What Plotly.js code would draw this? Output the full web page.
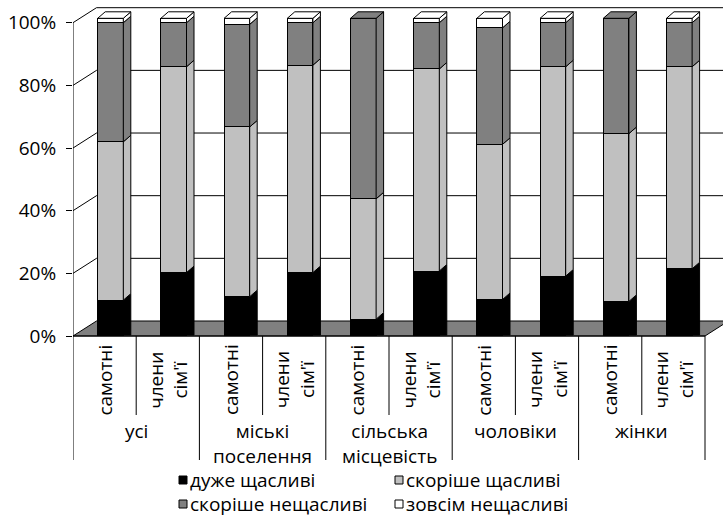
<!DOCTYPE html>
<html><head><meta charset="utf-8">
<script src="https://cdn.plot.ly/plotly-3.0.1.min.js"></script>
<style>html,body{margin:0;padding:0;background:#fff}#chart{width:723px;height:522px}</style>
</head><body><div id="chart"></div>
<script>
// ---- data ----
const groupLabels = ['усі', 'міські<br>поселення', 'сільська<br>місцевість', 'чоловіки', 'жінки'];
const subLabels = ['самотні', "члени<br>сім'ї"];
const seriesNames = ['дуже щасливі', 'скоріше щасливі', 'скоріше нещасливі', 'зовсім нещасливі'];
const veryHappy     = [11.0, 19.7, 12.1, 19.7, 5.0, 20.2, 11.2, 18.6, 10.6, 20.9];
const ratherHappy   = [50.0, 65.0, 53.6, 65.5, 38.0, 63.8, 49.0, 66.1, 53.0, 63.8];
const ratherUnhappy = [37.6, 13.9, 32.4, 13.4, 57.0, 14.6, 36.8, 13.9, 36.4, 13.9];
const veryUnhappy   = [1.4, 1.4, 1.9, 1.4, 0.0, 1.4, 3.0, 1.4, 0.0, 1.4];
const yTickVals = [0, 20, 40, 60, 80, 100];
const yTickText = ['0%', '20%', '40%', '60%', '80%', '100%'];
const colors = ['#000000', '#c0c0c0', '#808080', '#ffffff'];

// ---- geometry (pixels) ----
const W = 723, H = 522, PL = 73, PR = 723;
const SLOT = 63.2;              // px per category slot on the front plane
const Y0PX = 336, Y100PX = 22.7;
const SY = (Y0PX - Y100PX) / 100;
const xr = [-0.5, -0.5 + (PR - PL) / SLOT];
const yr = [-(H - Y0PX) / SY, Y0PX / SY];
const yFromPx = px => (Y0PX - px) / SY;
const xFromPx = px => -0.5 + (px - PL) / SLOT;

const BAR_SHIFT = 5.9, B0PX = 335, B100PX = 18.3;
const SY2 = (B0PX - B100PX) / 100;
const x2r = [xr[0] - BAR_SHIFT / SLOT, xr[1] - BAR_SHIFT / SLOT];
const y2r = [-(H - B0PX) / SY2, B0PX / SY2];
const BW = 0.405;
const DDX = 7.5 / SLOT, DDY = 6.5 / SY2;
const WDX = 23.5 / SLOT, WDY = 15 / SY;

const series = [veryHappy, ratherHappy, ratherUnhappy, veryUnhappy];
const nCat = veryHappy.length;
const xpos = veryHappy.map((_, i) => i);

const traces = series.map((vals, k) => ({
  type: 'bar', x: xpos, y: vals, name: seriesNames[k],
  xaxis: 'x2', yaxis: 'y2', width: BW,
  marker: {color: colors[k], line: {color: '#000', width: 1}},
  showlegend: false, hoverinfo: 'skip'
}));

const shapes = [];
const ln = {color: '#000', width: 1};
// floor
shapes.push({type: 'path', xref: 'x', yref: 'y', layer: 'below',
  path: `M${-0.5},0 L${nCat - 0.5},0 L${nCat - 0.5 + WDX},${WDY} L${-0.5 + WDX},${WDY} Z`,
  fillcolor: '#808080', line: ln});
// back-wall gridlines
yTickVals.forEach(v => {
  if (v === 0) return;
  shapes.push({type: 'path', xref: 'x', yref: 'y', layer: 'below',
    path: `M${-0.5},${v} L${-0.5 + WDX},${v + WDY} L${xr[1] + 1},${v + WDY}`, line: ln});
});
// y axis line continuing as first divider
shapes.push({type: 'line', xref: 'x', yref: 'y', x0: -0.5, x1: -0.5, y0: 100, y1: yFromPx(460), line: ln});
// front axis line
shapes.push({type: 'line', xref: 'x', yref: 'y', x0: -0.5, x1: nCat - 0.5, y0: 0, y1: 0, line: ln});
// category dividers
for (let g = 0; g <= groupLabels.length; g++) {
  const xg = -0.5 + 2 * g;
  if (g > 0) shapes.push({type: 'line', xref: 'x', yref: 'y', x0: xg, x1: xg, y0: 0, y1: yFromPx(460), line: ln});
  if (g < groupLabels.length) shapes.push({type: 'line', xref: 'x', yref: 'y', x0: xg + 1, x1: xg + 1, y0: 0, y1: yFromPx(415), line: ln});
}
// 3D side faces and caps of bars
for (let i = 0; i < nCat; i++) {
  let base = 0, topK = -1;
  const xl = i - BW / 2, xrr = i + BW / 2;
  series.forEach((vals, k) => {
    const v = vals[i];
    if (v <= 0) return;
    const t = base + v;
    const b0 = base === 0 ? 0 : base + DDY;
    shapes.push({type: 'path', xref: 'x2', yref: 'y2',
      path: `M${xrr},${base} L${xrr + DDX},${b0} L${xrr + DDX},${t + DDY} L${xrr},${t} Z`,
      fillcolor: colors[k], line: ln});
    base = t; topK = k;
  });
  shapes.push({type: 'path', xref: 'x2', yref: 'y2',
    path: `M${xl},${base} L${xl + DDX},${base + DDY} L${xrr + DDX},${base + DDY} L${xrr},${base} Z`,
    fillcolor: colors[topK], line: ln});
}

const annotations = [];
xpos.forEach(i => {
  annotations.push({xref: 'x', yref: 'y', x: i, y: yFromPx(380), text: subLabels[i % 2],
    textangle: -90, showarrow: false, xanchor: 'center', yanchor: 'middle', align: 'center'});
});
groupLabels.forEach((g, j) => {
  annotations.push({xref: 'x', yref: 'y', x: 2 * j + 0.5, y: yFromPx(417), text: g,
    showarrow: false, xanchor: 'center', yanchor: 'top', align: 'center', borderpad: 0});
});

// legend (2 x 2) : small square + text
const legCols = [179, 395], legRows = [480, 504], SQ = 8;
seriesNames.forEach((name, k) => {
  const cx = legCols[k % 2], cy = legRows[Math.floor(k / 2)];
  shapes.push({type: 'rect', xref: 'x', yref: 'y',
    x0: xFromPx(cx), x1: xFromPx(cx + SQ), y0: yFromPx(cy - SQ / 2), y1: yFromPx(cy + SQ / 2),
    fillcolor: colors[k], line: ln});
  annotations.push({xref: 'x', yref: 'y', x: xFromPx(cx + SQ + 2), y: yFromPx(cy - 0.5), text: name,
    showarrow: false, xanchor: 'left', yanchor: 'middle', align: 'left', borderpad: 0});
});

const layout = {
  width: W, height: H, margin: {l: PL, r: W - PR, t: 0, b: 0},
  paper_bgcolor: '#ffffff', plot_bgcolor: 'rgba(0,0,0,0)',
  font: {family: '"Open Sans", sans-serif', size: 19, color: '#000'},
  barmode: 'stack', showlegend: false,
  xaxis: {range: xr, showgrid: false, zeroline: false, showticklabels: false, showline: false, ticks: '', fixedrange: true},
  yaxis: {range: yr, tickvals: yTickVals, ticktext: yTickText, ticks: 'outside', ticklen: 6,
    tickcolor: '#000', tickwidth: 1, showgrid: false, zeroline: false, showline: false, ticklabelstandoff: 6, fixedrange: true},
  xaxis2: {overlaying: 'x', range: x2r, visible: false, fixedrange: true},
  yaxis2: {overlaying: 'y', range: y2r, visible: false, fixedrange: true},
  shapes: shapes, annotations: annotations
};
Plotly.newPlot('chart', traces, layout, {staticPlot: true, displayModeBar: false});
</script></body></html>
